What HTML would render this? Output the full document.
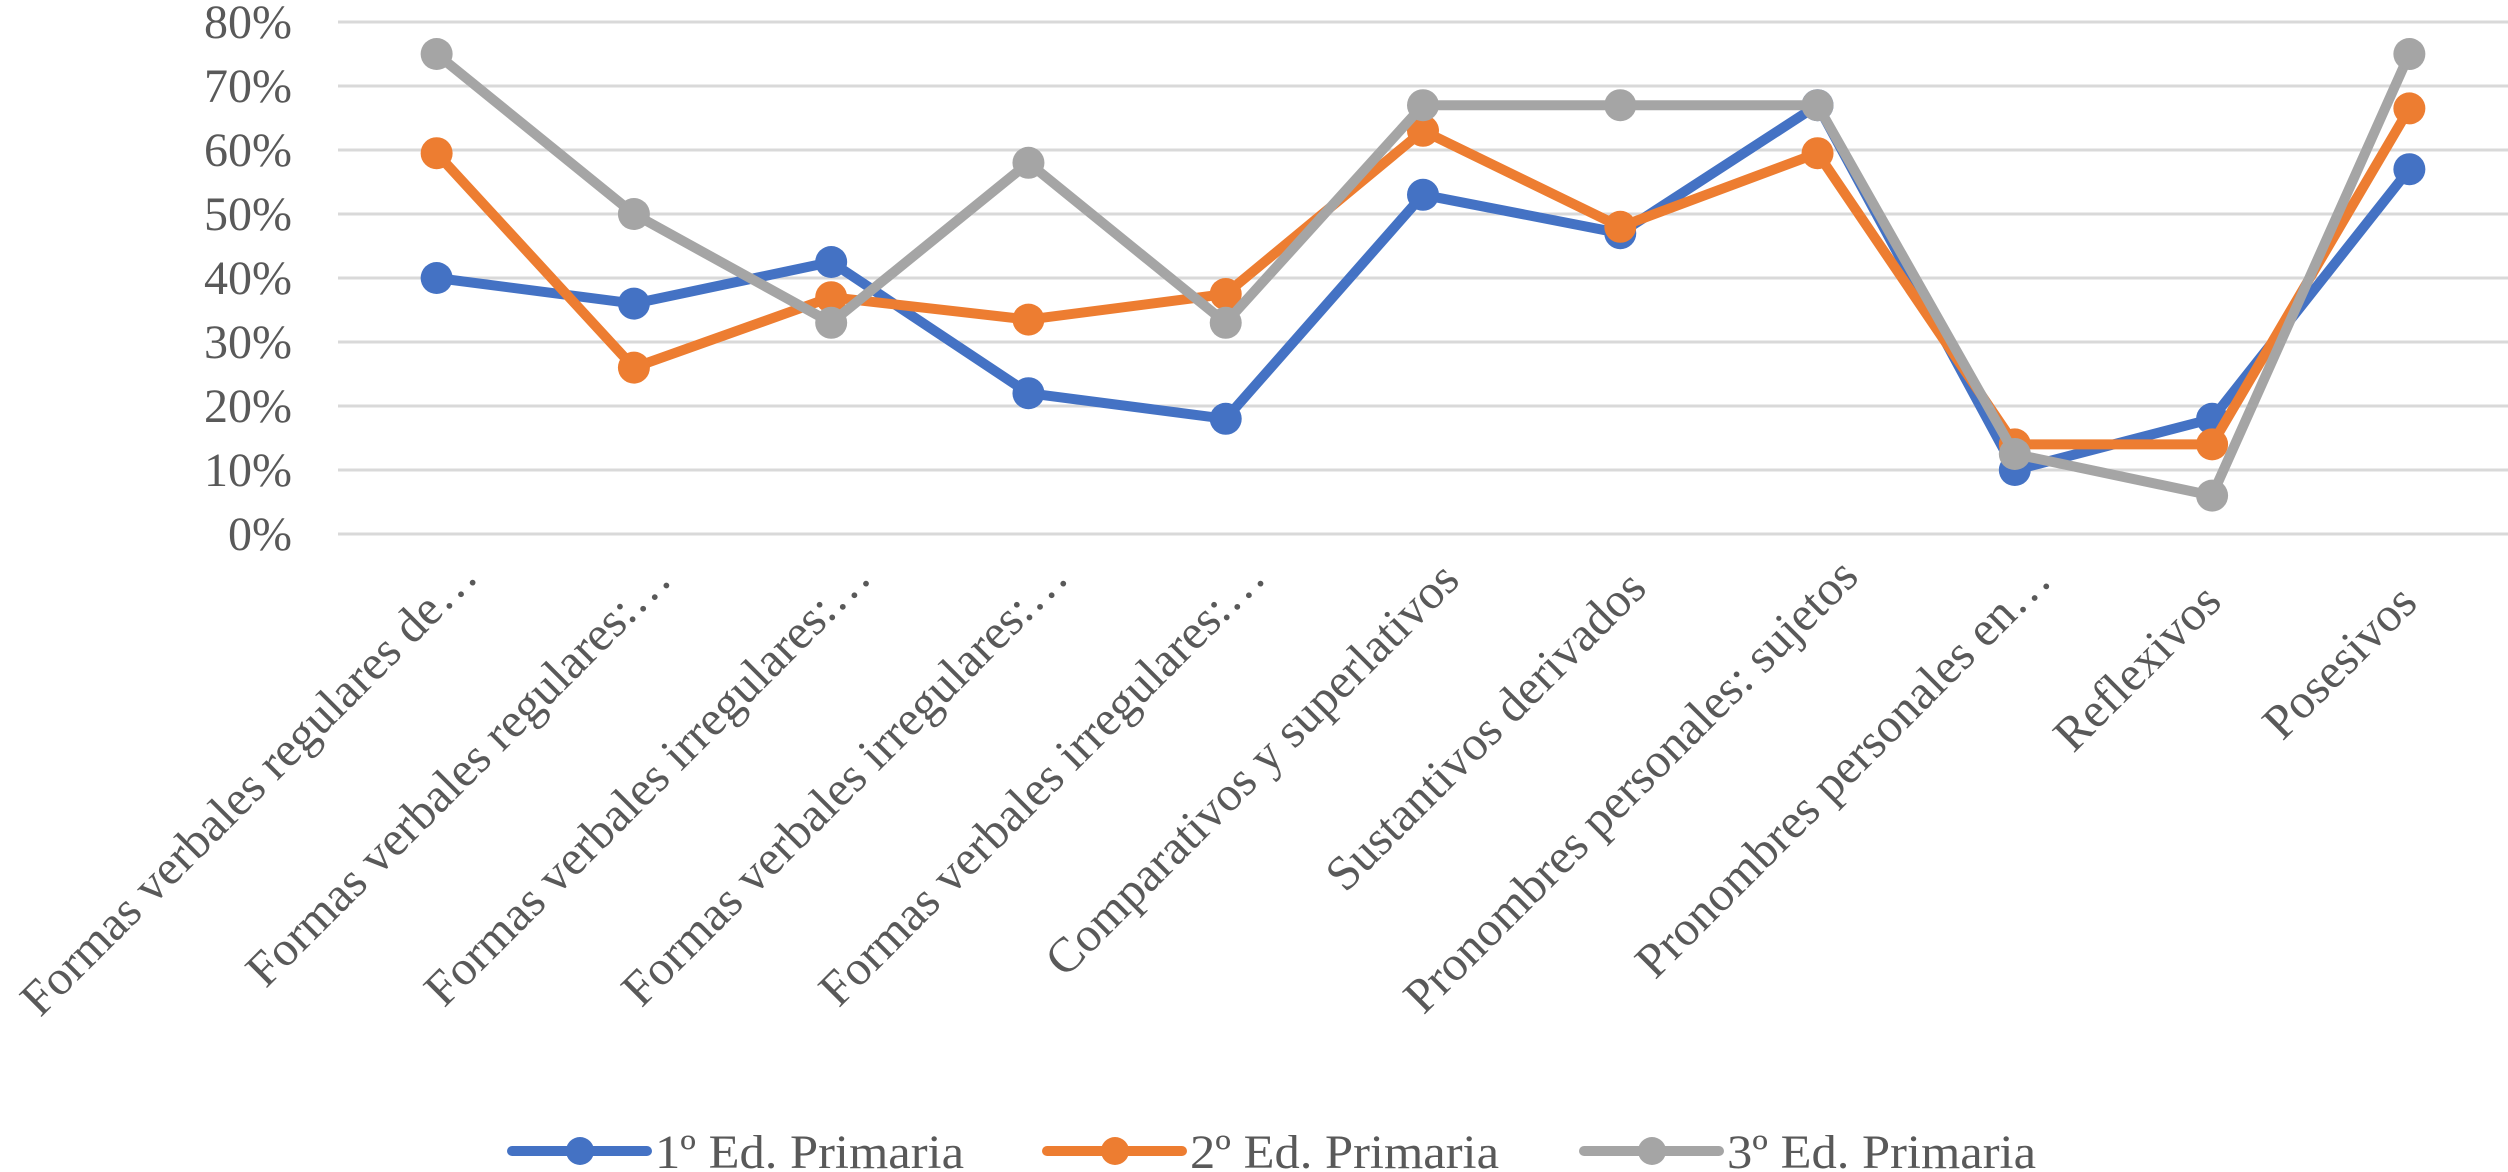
<!DOCTYPE html>
<html><head><meta charset="utf-8"><style>
html,body{margin:0;padding:0;background:#fff;}
svg{display:block;font-family:"Liberation Serif",serif;}
</style></head><body>
<svg id="chart" width="2508" height="1172" viewBox="0 0 2508 1172">
<g id="grid"></g>
<g id="yticks"></g>
<g id="xticks"></g>
<g id="series"></g>
<g id="legend"></g>
</svg>
<script>
const categories = ["Formas verbales regulares de…","Formas verbales regulares:…","Formas verbales irregulares:…","Formas verbales irregulares:…","Formas verbales irregulares:…","Comparativos y superlativos","Sustantivos derivados","Pronombres personales: sujetos","Pronombres personales en…","Reflexivos","Posesivos"];
const seriesNames = ["1º Ed. Primaria","2º Ed. Primaria","3º Ed. Primaria"];
const series1 = [40,36,42.5,22,18,53,47,67,10,18,57];
const series2 = [59.5,26,37,33.5,37.5,63,48,59.5,14,14,66.5];
const series3 = [75,50,33,58,33,67,67,67,12.5,6,75];
const yTicks = [0,10,20,30,40,50,60,70,80];
const yTickLabels = ["0%","10%","20%","30%","40%","50%","60%","70%","80%"];

const NS="http://www.w3.org/2000/svg";
const colors=["#4472C4","#ED7D31","#A5A5A5"];
const plotL=338, plotR=2508, y0=534, y80=22;
const step=(plotR-plotL)/categories.length;
function xPos(i){return plotL+step*(i+0.5);}
function yPos(v){return y0-(v/80)*(y0-y80);}
function mk(tag,attrs,parent){const e=document.createElementNS(NS,tag);for(const k in attrs)e.setAttribute(k,attrs[k]);parent.appendChild(e);return e;}

const grid=document.getElementById('grid'), yt=document.getElementById('yticks');
yTicks.forEach((t,i)=>{
  const l=mk('line',{x1:plotL,x2:plotR,y1:yPos(t),y2:yPos(t),stroke:'#d9d9d9','stroke-width':3},grid);
  
  
  const tx=mk('text',{x:292,y:yPos(t)+16,'text-anchor':'end','font-size':48,fill:'#595959'},yt);
  tx.textContent=yTickLabels[i];
  
  
});
const xt=document.getElementById('xticks');
categories.forEach((c,i)=>{
  const tx=mk('text',{x:0,y:0,'text-anchor':'end','font-size':49,fill:'#595959'},xt);
  tx.textContent=c;
  
  
  const L=tx.getComputedTextLength();
  const ax=xPos(i)+10+0.078*(L-195), ay=605-0.062*(L-195);
  tx.setAttribute('x',ax);tx.setAttribute('y',ay);
  tx.setAttribute('transform',`rotate(-45 ${ax} ${ay})`);
});
const sg=document.getElementById('series');
[series1,series2,series3].forEach((s,k)=>{
  const g=mk('g',{},sg);
  
  
  const pts=s.map((v,i)=>xPos(i)+','+yPos(v)).join(' ');
  const pl=mk('polyline',{points:pts,fill:'none',stroke:colors[k],'stroke-width':10,'stroke-linejoin':'round'},g);
  
  
  s.forEach((v,i)=>{
    const c=mk('circle',{cx:xPos(i),cy:yPos(v),r:16,fill:colors[k]},g);
    
    
  });
});
const lg=document.getElementById('legend');
const lx=[512,1047,1584];
seriesNames.forEach((n,k)=>{
  const g=mk('g',{},lg);
  
  
  mk('line',{x1:lx[k],x2:lx[k]+135,y1:1151,y2:1151,stroke:colors[k],'stroke-width':10,'stroke-linecap':'round'},g);
  mk('circle',{cx:lx[k]+68,cy:1151,r:14,fill:colors[k]},g);
  const t=mk('text',{x:lx[k]+143,y:1168,'font-size':48,fill:'#595959',textLength:309,lengthAdjust:'spacingAndGlyphs'},g);
  t.textContent=n;
});
</script>
</body></html>
